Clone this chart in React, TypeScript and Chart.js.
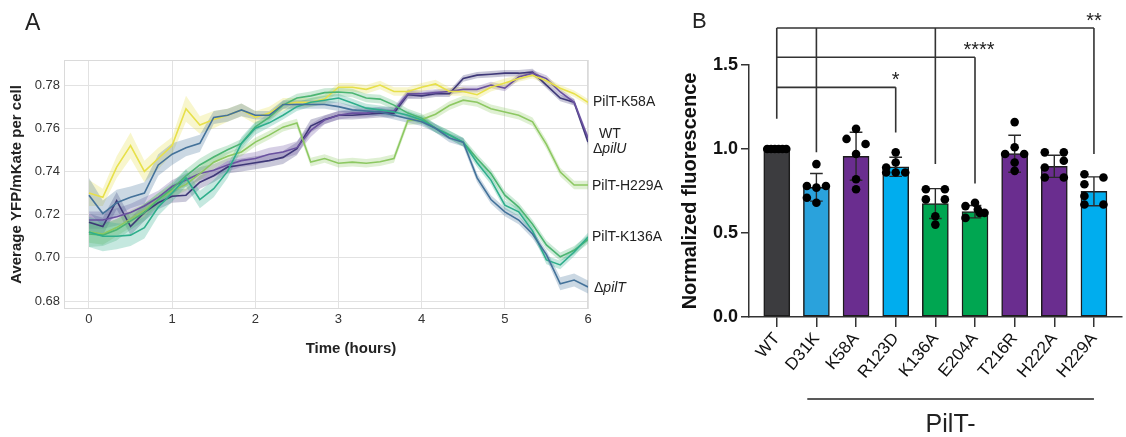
import React, { useEffect, useRef } from "react";
import { Chart, registerables } from "chart.js";

Chart.register(...registerables);

const FONT = '"Liberation Sans", Arial, Helvetica, sans-serif';
Chart.defaults.font.family = FONT;

// ---------------- Panel A data ----------------
const TIME_MIN = [0, 10, 20, 30, 40, 50, 60, 70, 80, 90, 100, 110, 120, 130, 140, 150, 160, 170, 180, 190, 200, 210, 220, 230, 240, 250, 260, 270, 280, 290, 300, 310, 320, 330, 340, 350, 360];

const K58A = [0.730, 0.728, 0.742, 0.752, 0.740, 0.746, 0.752, 0.769, 0.7615, 0.764, 0.766, 0.7685, 0.765, 0.767, 0.771, 0.772, 0.772, 0.7735, 0.779, 0.779, 0.778, 0.780, 0.777, 0.777, 0.779, 0.7805, 0.777, 0.777, 0.7755, 0.779, 0.781, 0.783, 0.7845, 0.782, 0.7785, 0.776, 0.772];
const K58A_SEM = [0.006, 0.004, 0.005, 0.006, 0.005, 0.005, 0.004, 0.006, 0.004, 0.004, 0.003, 0.003, 0.003, 0.003, 0.003, 0.002, 0.002, 0.002, 0.002, 0.002, 0.002, 0.002, 0.002, 0.002, 0.002, 0.002, 0.002, 0.002, 0.002, 0.002, 0.002, 0.0015, 0.0015, 0.0015, 0.0015, 0.0015, 0.0015];

const WT = [0.7175, 0.7175, 0.719, 0.721, 0.724, 0.728, 0.733, 0.736, 0.739, 0.7405, 0.743, 0.745, 0.746, 0.748, 0.749, 0.751, 0.759, 0.7638, 0.766, 0.767, 0.767, 0.768, 0.768, 0.776, 0.776, 0.7765, 0.777, 0.778, 0.778, 0.780, 0.7786, 0.7837, 0.7855, 0.783, 0.7768, 0.772, 0.7555];
const WT_SEM = [0.004, 0.004, 0.004, 0.004, 0.004, 0.003, 0.003, 0.003, 0.003, 0.003, 0.003, 0.003, 0.003, 0.003, 0.003, 0.003, 0.003, 0.002, 0.002, 0.002, 0.002, 0.002, 0.002, 0.002, 0.0015, 0.0015, 0.0015, 0.0015, 0.0015, 0.0015, 0.0015, 0.0015, 0.0015, 0.0015, 0.0015, 0.0015, 0.0015];

const DPILU = [0.7165, 0.7145, 0.7265, 0.7145, 0.721, 0.7255, 0.7285, 0.729, 0.735, 0.738, 0.742, 0.743, 0.744, 0.745, 0.7465, 0.7505, 0.761, 0.764, 0.766, 0.766, 0.7665, 0.767, 0.767, 0.7755, 0.775, 0.776, 0.776, 0.783, 0.7846, 0.785, 0.7855, 0.7855, 0.786, 0.780, 0.774, 0.772, 0.7536];
const DPILU_SEM = [0.004, 0.004, 0.004, 0.004, 0.004, 0.003, 0.003, 0.003, 0.003, 0.003, 0.003, 0.003, 0.003, 0.003, 0.003, 0.003, 0.003, 0.002, 0.002, 0.002, 0.002, 0.002, 0.002, 0.002, 0.0015, 0.0015, 0.0015, 0.0015, 0.0015, 0.0015, 0.0015, 0.0015, 0.0015, 0.0015, 0.0015, 0.0015, 0.0015];

const H229A = [0.712, 0.711, 0.714, 0.718, 0.722, 0.727, 0.731, 0.734, 0.739, 0.7443, 0.747, 0.749, 0.7536, 0.7568, 0.7605, 0.7624, 0.7443, 0.746, 0.7438, 0.7443, 0.7438, 0.7445, 0.746, 0.7635, 0.764, 0.7665, 0.7705, 0.773, 0.772, 0.769, 0.7675, 0.766, 0.763, 0.7525, 0.7397, 0.7337, 0.7337];
const H229A_SEM = [0.005, 0.005, 0.004, 0.004, 0.003, 0.003, 0.003, 0.003, 0.003, 0.003, 0.002, 0.002, 0.002, 0.002, 0.002, 0.002, 0.002, 0.002, 0.002, 0.002, 0.002, 0.002, 0.002, 0.002, 0.002, 0.002, 0.002, 0.002, 0.002, 0.002, 0.002, 0.002, 0.002, 0.002, 0.002, 0.002, 0.002];

const G2 = [0.711, 0.7105, 0.713, 0.717, 0.721, 0.727, 0.732, 0.738, 0.743, 0.7467, 0.750, 0.753, 0.7606, 0.765, 0.7707, 0.774, 0.775, 0.7765, 0.7768, 0.7763, 0.774, 0.7735, 0.7707, 0.767, 0.7647, 0.760, 0.757, 0.7535, 0.746, 0.739, 0.729, 0.7235, 0.7155, 0.706, 0.7005, 0.7035, 0.7085];
const G2_SEM = [0.006, 0.005, 0.005, 0.004, 0.004, 0.003, 0.003, 0.003, 0.003, 0.003, 0.002, 0.002, 0.002, 0.002, 0.002, 0.002, 0.002, 0.002, 0.002, 0.002, 0.002, 0.002, 0.002, 0.002, 0.002, 0.002, 0.002, 0.002, 0.002, 0.002, 0.002, 0.002, 0.002, 0.002, 0.002, 0.002, 0.002];

const K136A = [0.712, 0.710, 0.710, 0.7105, 0.714, 0.7235, 0.730, 0.737, 0.727, 0.732, 0.740, 0.753, 0.760, 0.7625, 0.766, 0.770, 0.772, 0.773, 0.774, 0.7717, 0.7693, 0.7685, 0.7675, 0.766, 0.7638, 0.760, 0.7568, 0.7536, 0.744, 0.736, 0.7244, 0.7213, 0.7125, 0.699, 0.6967, 0.7027, 0.7096];
const K136A_SEM = [0.007, 0.007, 0.006, 0.005, 0.005, 0.004, 0.004, 0.004, 0.004, 0.004, 0.003, 0.003, 0.003, 0.002, 0.002, 0.002, 0.002, 0.002, 0.002, 0.002, 0.002, 0.002, 0.002, 0.002, 0.002, 0.002, 0.002, 0.002, 0.002, 0.002, 0.002, 0.002, 0.002, 0.002, 0.002, 0.002, 0.002];

const DPILT = [0.729, 0.7205, 0.7255, 0.728, 0.730, 0.743, 0.748, 0.751, 0.753, 0.765, 0.766, 0.7685, 0.766, 0.766, 0.771, 0.771, 0.771, 0.771, 0.770, 0.7685, 0.768, 0.7675, 0.766, 0.7645, 0.763, 0.760, 0.7555, 0.7535, 0.737, 0.727, 0.7213, 0.7175, 0.711, 0.7015, 0.688, 0.6897, 0.6865];
const DPILT_SEM = [0.008, 0.006, 0.006, 0.005, 0.005, 0.005, 0.005, 0.004, 0.004, 0.003, 0.003, 0.003, 0.002, 0.002, 0.002, 0.002, 0.002, 0.002, 0.002, 0.002, 0.002, 0.002, 0.002, 0.002, 0.002, 0.002, 0.002, 0.002, 0.002, 0.002, 0.002, 0.002, 0.002, 0.002, 0.003, 0.003, 0.003];

const A_X_TICKS = [0, 1, 2, 3, 4, 5, 6];
const A_Y_TICKS = [0.68, 0.70, 0.72, 0.74, 0.76, 0.78];

const LINE_SERIES = [
  { values: DPILT, sem: DPILT_SEM, color: "#44729a" },
  { values: K136A, sem: K136A_SEM, color: "#2fae8c" },
  { values: G2, sem: G2_SEM, color: "#4cb572" },
  { values: H229A, sem: H229A_SEM, color: "#8dc862" },
  { values: K58A, sem: K58A_SEM, color: "#e7e04a" },
  { values: WT, sem: WT_SEM, color: "#6a51a0" },
  { values: DPILU, sem: DPILU_SEM, color: "#3e3878" },
];

type Part = [string, boolean];
const END_LABELS: { parts: Part[]; value: number; dx: number }[] = [
  { parts: [["PilT-K58A", false]], value: 0.7719, dx: 5 },
  { parts: [["WT", false]], value: 0.7573, dx: 11 },
  { parts: [["Δ", false], ["pilU", true]], value: 0.7504, dx: 5 },
  { parts: [["PilT-H229A", false]], value: 0.7332, dx: 4 },
  { parts: [["PilT-K136A", false]], value: 0.7094, dx: 4 },
  { parts: [["Δ", false], ["pilT", true]], value: 0.686, dx: 6 },
];

// ---------------- Panel B data ----------------
const MUTANTS = ["WT", "D31K", "K58A", "R123D", "K136A", "E204A", "T216R", "H222A", "H229A"];
const MEANS = [1.0, 0.772, 0.957, 0.894, 0.675, 0.627, 0.972, 0.897, 0.748];
const SDS = [0, 0.082, 0.143, 0.057, 0.089, 0.037, 0.11, 0.066, 0.086];
const REPLICATES = [
  [1.0, 1.0, 1.0, 1.0, 1.0, 1.0],
  [0.91, 0.78, 0.77, 0.78, 0.71, 0.68],
  [1.12, 1.06, 1.03, 0.97, 0.82, 0.76],
  [0.98, 0.92, 0.89, 0.86, 0.86, 0.86],
  [0.76, 0.76, 0.70, 0.70, 0.60, 0.55],
  [0.68, 0.66, 0.64, 0.62, 0.62, 0.59],
  [1.16, 1.01, 0.97, 0.97, 0.92, 0.87],
  [0.98, 0.98, 0.93, 0.89, 0.83, 0.83],
  [0.85, 0.83, 0.79, 0.72, 0.67, 0.67],
];
const BAR_COLORS = ["#3c3c3f", "#2aa2dc", "#6a2d8f", "#00adee", "#00a651", "#00a651", "#6a2d8f", "#6a2d8f", "#00adee"];
const DOT_SLOTS = [
  [-1, -0.6, -0.2, 0.2, 0.6, 1],
  [0, -1, 0, 1, -1, 0],
  [0, -1, 1, 0, 0, 0],
  [0, 0, -1, -1, 0, 1],
  [-1, 1, -1, 1, 0, 0],
  [0, -1, 0.3, 0.5, 1, -1],
  [0, 0, -1, 1, 0, 0],
  [-1, 1, 1, -1, -1, 1],
  [-1, 1, -1, -1, -1, 1],
];
const SIG_LEVELS = [1.72, 1.546, 1.367];
const SIG_TARGETS = [[1, 4, 8], [5], [3]];
const SIG_ENDS = [[0.98, 0.91, 0.97], [0.794], [1.098]];
const SIG_STARS = ["**", "****", "*"];
const WT_BRACKET_BASE = 1.18;
const B_Y_TICKS = [0, 0.5, 1.0, 1.5];

function rgba(hex: string, a: number) {
  const n = parseInt(hex.slice(1), 16);
  return `rgba(${(n >> 16) & 255},${(n >> 8) & 255},${n & 255},${a})`;
}

const panelAPlugin = {
  id: "panelA",
  beforeDatasetsDraw(chart: any) {
    const { ctx, chartArea: a } = chart;
    ctx.save();
    ctx.strokeStyle = "#dadada";
    ctx.lineWidth = 1;
    ctx.strokeRect(a.left + 0.5, a.top + 0.5, a.right - a.left - 1, a.bottom - a.top - 1);
    ctx.restore();
  },
  afterDraw(chart: any) {
    const { ctx, chartArea: a, scales } = chart;
    const ys = scales.y;
    ctx.save();
    ctx.fillStyle = "#222";
    ctx.font = `23px ${FONT}`;
    ctx.textBaseline = "alphabetic";
    ctx.textAlign = "left";
    ctx.fillText("A", 25, 30);

    ctx.font = `bold 15px ${FONT}`;
    ctx.textAlign = "center";
    ctx.fillText("Time (hours)", (a.left + a.right) / 2 + 25, a.bottom + 44);

    ctx.textAlign = "left";
    ctx.textBaseline = "middle";
    for (const lab of END_LABELS) {
      let x = a.right + lab.dx;
      const y = ys.getPixelForValue(lab.value);
      for (const [txt, it] of lab.parts) {
        ctx.font = `${it ? "italic " : ""}14px ${FONT}`;
        ctx.fillText(txt, x, y);
        x += ctx.measureText(txt).width;
      }
    }
    ctx.restore();
  },
};

const panelBPlugin = {
  id: "panelB",
  afterDraw(chart: any) {
    const { ctx, chartArea: a, scales } = chart;
    const xs = scales.x;
    const ys = scales.y;
    ctx.save();
    ctx.fillStyle = "#222";
    ctx.font = `22px ${FONT}`;
    ctx.textAlign = "left";
    ctx.textBaseline = "alphabetic";
    ctx.fillText("B", 32, 28);

    ctx.font = `20px ${FONT}`;
    ctx.textAlign = "center";
    SIG_STARS.forEach((s, g) => {
      const tg = SIG_TARGETS[g];
      const xEnd = xs.getPixelForValue(tg[tg.length - 1]);
      ctx.fillText(s, xEnd + (g === 1 ? 4 : 0), ys.getPixelForValue(SIG_LEVELS[g]) - 1);
    });

    const x0 = xs.getPixelForValue(0.77);
    const x1 = xs.getPixelForValue(MUTANTS.length - 1);
    const yl = a.bottom + 82;
    ctx.strokeStyle = "#222";
    ctx.lineWidth = 1.5;
    ctx.beginPath();
    ctx.moveTo(x0, yl);
    ctx.lineTo(x1, yl);
    ctx.stroke();
    ctx.font = `25px ${FONT}`;
    ctx.fillText("PilT-", (x0 + x1) / 2, a.bottom + 115);
    ctx.restore();
  },
};

export default function App() {
  const refA = useRef<HTMLCanvasElement>(null);
  const refB = useRef<HTMLCanvasElement>(null);

  useEffect(() => {
    const hours = TIME_MIN.map((m) => m / 60);
    const dsA: any[] = [];
    LINE_SERIES.forEach((s) => {
      const band = rgba(s.color, 0.28);
      dsA.push({
        data: s.values.map((v, i) => ({ x: hours[i], y: v - s.sem[i] })),
        borderWidth: 0, pointRadius: 0, fill: false, backgroundColor: band, order: 10,
      });
      dsA.push({
        data: s.values.map((v, i) => ({ x: hours[i], y: v + s.sem[i] })),
        borderWidth: 0, pointRadius: 0, fill: "-1", backgroundColor: band, order: 10,
      });
    });
    LINE_SERIES.forEach((s) => {
      dsA.push({
        data: s.values.map((v, i) => ({ x: hours[i], y: v })),
        borderColor: s.color, borderWidth: 1.6, pointRadius: 0, fill: false, order: 0,
      });
    });

    const chartA = new Chart(refA.current!, {
      type: "line",
      data: { datasets: dsA },
      options: {
        animation: false,
        responsive: false,
        devicePixelRatio: 1,
        events: [],
        layout: { padding: { left: 6, top: 60, right: 112, bottom: 0 } },
        plugins: { legend: { display: false }, tooltip: { enabled: false } },
        scales: {
          x: {
            type: "linear",
            min: -0.3,
            max: 6,
            afterBuildTicks: (sc: any) => { sc.ticks = A_X_TICKS.map((v) => ({ value: v })); },
            afterFit: (sc: any) => { sc.height = 128; },
            ticks: { font: { size: 13 }, color: "#333", padding: 3, callback: (v: any) => String(v) },
            grid: { color: "#e2e2e2", drawTicks: false },
            border: { display: false },
          },
          y: {
            type: "linear",
            min: 0.6763,
            max: 0.7916,
            afterBuildTicks: (sc: any) => { sc.ticks = A_Y_TICKS.map((v) => ({ value: v })); },
            afterFit: (sc: any) => { sc.width = 58; },
            ticks: { font: { size: 13 }, color: "#333", padding: 4, callback: (v: any) => Number(v).toFixed(2) },
            grid: { color: "#e2e2e2", drawTicks: false },
            border: { display: false },
            title: { display: true, text: "Average YFP/mKate per cell", font: { size: 15, weight: "bold" }, color: "#222", padding: { top: 2, bottom: 0 } },
          },
        },
      },
      plugins: [panelAPlugin],
    } as any);

    // ---- Panel B ----
    const CAP = 0.16;
    const SLOT = 0.24;
    const errData: any[] = [];
    MEANS.forEach((m, i) => {
      const sd = SDS[i];
      if (!sd) return;
      const lo = m - sd;
      const hi = m + sd;
      errData.push(
        { x: i, y: lo }, { x: i, y: hi }, { x: i, y: null },
        { x: i - CAP, y: hi }, { x: i + CAP, y: hi }, { x: i, y: null },
        { x: i - CAP, y: lo }, { x: i + CAP, y: lo }, { x: i, y: null }
      );
    });
    const dots: any[] = [];
    REPLICATES.forEach((arr, i) => arr.forEach((v, j) => dots.push({ x: i + DOT_SLOTS[i][j] * SLOT, y: v })));

    const bracket: any[] = [];
    bracket.push({ x: 0, y: WT_BRACKET_BASE }, { x: 0, y: SIG_LEVELS[0] }, { x: 0, y: null });
    SIG_LEVELS.forEach((lvl, g) => {
      const tg = SIG_TARGETS[g];
      bracket.push({ x: 0, y: lvl }, { x: tg[tg.length - 1], y: lvl }, { x: 0, y: null });
      tg.forEach((t, k) => {
        bracket.push({ x: t, y: lvl }, { x: t, y: SIG_ENDS[g][k] }, { x: t, y: null });
      });
    });

    const chartB = new Chart(refB.current!, {
      type: "bar",
      data: {
        datasets: [
          {
            type: "scatter",
            data: dots,
            pointRadius: 4.3,
            pointBackgroundColor: "#000",
            pointBorderWidth: 0,
            order: 0,
          },
          {
            type: "line",
            data: errData,
            borderColor: "#2a2a2a",
            borderWidth: 1.4,
            pointRadius: 0,
            fill: false,
            spanGaps: false,
            order: 1,
          },
          {
            type: "bar",
            data: MEANS.map((m, i) => ({ x: i, y: m })),
            backgroundColor: BAR_COLORS,
            borderColor: "#1c1c1c",
            borderWidth: 1.5,
            borderSkipped: false,
            barThickness: 26,
            order: 2,
          },
          {
            type: "line",
            data: bracket,
            borderColor: "#333",
            borderWidth: 1.6,
            pointRadius: 0,
            fill: false,
            spanGaps: false,
            clip: false,
            order: 3,
          },
        ],
      },
      options: {
        animation: false,
        responsive: false,
        devicePixelRatio: 1,
        events: [],
        layout: { padding: { left: 16, top: 65, right: 0, bottom: 0 } },
        plugins: { legend: { display: false }, tooltip: { enabled: false } },
        scales: {
          x: {
            type: "linear",
            min: -0.7,
            max: 8.7,
            offset: false,
            afterBuildTicks: (sc: any) => { sc.ticks = MUTANTS.map((_, i) => ({ value: i })); },
            afterFit: (sc: any) => { sc.height = 120; },
            ticks: {
              autoSkip: false,
              minRotation: 50,
              maxRotation: 50,
              font: { size: 17 },
              color: "#111",
              padding: 2,
              callback: (v: any) => MUTANTS[v] ?? "",
            },
            grid: { offset: false, drawOnChartArea: false, drawTicks: true, tickLength: 10, color: "#333", lineWidth: 1.5 },
            border: { display: true, color: "#333", width: 1.5 },
          },
          y: {
            type: "linear",
            min: 0,
            max: 1.5,
            afterBuildTicks: (sc: any) => { sc.ticks = B_Y_TICKS.map((v) => ({ value: v })); },
            afterFit: (sc: any) => { sc.width = 73; },
            ticks: { font: { size: 18, weight: "bold" }, color: "#111", padding: 3, callback: (v: any) => Number(v).toFixed(1) },
            grid: { drawOnChartArea: false, drawTicks: true, tickLength: 8, color: "#333", lineWidth: 1.5 },
            border: { display: true, color: "#333", width: 1.5 },
            title: { display: true, text: "Normalized fluorescence", font: { size: 20, weight: "bold" }, color: "#111", padding: { top: 2, bottom: 0 } },
          },
        },
      },
      plugins: [panelBPlugin],
    } as any);

    return () => {
      chartA.destroy();
      chartB.destroy();
    };
  }, []);

  return (
    <div style={{ position: "fixed", left: 0, top: 0, width: 1126, height: 437, background: "#fff", overflow: "hidden" }}>
      <canvas ref={refA} width={700} height={437} style={{ position: "absolute", left: 0, top: 0, width: 700, height: 437 }} />
      <canvas ref={refB} width={466} height={437} style={{ position: "absolute", left: 660, top: 0, width: 466, height: 437 }} />
    </div>
  );
}
